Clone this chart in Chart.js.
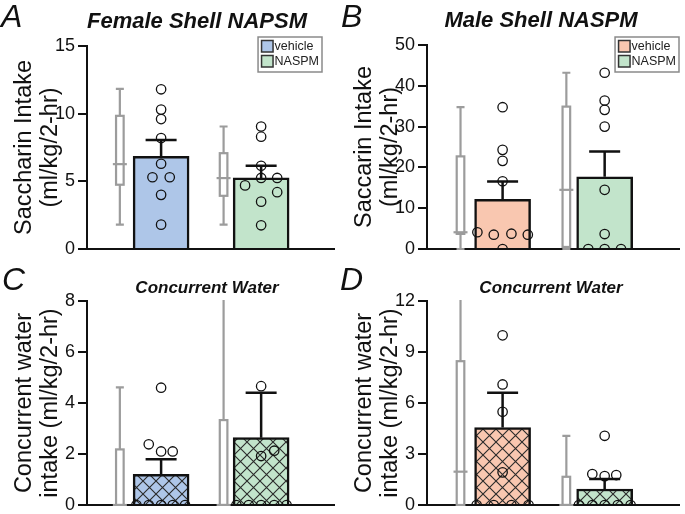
<!DOCTYPE html>
<html>
<head>
<meta charset="utf-8">
<script src="https://cdn.jsdelivr.net/npm/chart.js@4.4.1/dist/chart.umd.min.js"></script>
<style>
  body { margin: 0; background: #fff; }
  #fig { position: relative; width: 685px; height: 514px; overflow: hidden; font-family: "Liberation Sans", Arial, sans-serif; color: #111; }
  .pane { position: absolute; }
  .lbl { position: absolute; line-height: 1; white-space: nowrap; }
  .letter { font-size: 32px; font-style: italic; }
  .ttl { font-weight: bold; font-style: italic; text-align: center; width: 300px; }
</style>
</head>
<body>
<div id="fig">
  <canvas class="pane" id="cA" width="340" height="260" style="left:0;top:0"></canvas>
  <canvas class="pane" id="cB" width="345" height="260" style="left:340px;top:0"></canvas>
  <canvas class="pane" id="cC" width="340" height="254" style="left:0;top:260px"></canvas>
  <canvas class="pane" id="cD" width="345" height="254" style="left:340px;top:260px"></canvas>

  <div class="lbl letter" style="left:1px;top:0">A</div>
  <div class="lbl letter" style="left:341px;top:0">B</div>
  <div class="lbl letter" style="left:2px;top:263px">C</div>
  <div class="lbl letter" style="left:340px;top:263px">D</div>

  <div class="lbl ttl" style="left:47px;top:10px;font-size:22px">Female Shell NAPSM</div>
  <div class="lbl ttl" style="left:391px;top:9px;font-size:22px">Male Shell NASPM</div>
  <div class="lbl ttl" style="left:57px;top:279px;font-size:17px">Concurrent Water</div>
  <div class="lbl ttl" style="left:401px;top:279px;font-size:17px">Concurrent Water</div>
</div>
<script>
const groups = ['vehicle', 'NASPM'];

// A: female shell, saccharin intake
const aTicks = [0, 5, 10, 15];
const aVehicle = [11.8, 10.3, 9.6, 8.2, 6.3, 5.3, 5.3, 4.0, 1.8];
const aNaspm = [9.05, 8.3, 6.15, 5.25, 5.25, 4.7, 4.2, 3.5, 1.75];
const aMean = [6.85, 5.25];
const aSem = [1.2, 0.9];
const aBox = [[1.8, 4.75, 6.27, 9.84, 11.83], [1.8, 3.93, 5.24, 7.08, 9.05]]; // min, q1, median, q3, max

// B: male shell, saccharin intake
const bTicks = [0, 10, 20, 30, 40, 50];
const bVehicle = [34.75, 24.3, 21.6, 16.6, 4.1, 3.5, 3.75, 3.5, 0];
const bNaspm = [43.2, 36.4, 34.1, 30.0, 14.5, 3.67, 0, 0, 0];
const bMean = [12.2, 17.7];
const bSem = [4.35, 6.2];
const bBox = [[0, 3.7, 4.1, 22.7, 34.75], [0, 0.5, 14.5, 34.9, 43.2]];

// C: female, concurrent water
const cTicks = [0, 2, 4, 6, 8];
const cVehicle = [4.6, 2.38, 2.1, 2.1, 0, 0, 0, 0, 0];
const cNaspm = [4.66, 2.13, 1.92, 0, 0, 0, 0, 0];
const cMean = [1.2, 2.64];
const cSem = [0.59, 1.76];
const cBox = [[0, 0, 0, 2.18, 4.61], [0, 0, 0, 3.33, 15]];

// D: male, concurrent water
const dTicks = [0, 3, 6, 9, 12];
const dVehicle = [9.98, 7.09, 5.48, 1.92, 0, 0, 0, 0];
const dNaspm = [4.07, 1.82, 1.7, 1.76, 0, 0, 0, 0, 0];
const dMean = [4.56, 0.94];
const dSem = [2.04, 0.59];
const dBox = [[0, 0, 1.96, 8.46, 16.6], [0, 0, 0, 1.66, 4.07]];

// horizontal spread of the dots, x-axis units
const aVehicleJit = [0, 0, 0, 0, 0, -0.35, 0.35, 0, 0];
const aNaspmJit = [0, 0, 0, 0, 0.65, -0.65, 0.65, 0, 0];
const bVehicleJit = [0, 0, 0, 0, -1, -0.35, 0.35, 1, 0];
const bNaspmJit = [0, 0, 0, 0, 0, 0, -0.65, 0, 0.65];
const cVehicleJit = [0, -0.5, 0, 0.47, -1, -0.5, 0, 0.47, 0.97];
const cNaspmJit = [0, 0.53, 0, -1, -0.5, 0, 0.53, 1.03];
const dVehicleJit = [0, 0, 0, 0, -1.03, -0.35, 0.35, 1.03];
const dNaspmJit = [0, -0.49, 0, 0.46, -1.02, -0.49, 0, 0.52, 1.03];

const barX = [3, 7.05];
const boxX = [1.33, 5.53];

const BLUE = '#aec6e8', GREEN = '#c2e4cb', PEACH = '#f9c7b0';
const FONT = '"Liberation Sans", Arial, sans-serif';

function hatch(ctx, color) {
  const c = document.createElement('canvas');
  c.width = 13; c.height = 13;
  const g = c.getContext('2d');
  g.fillStyle = color;
  g.fillRect(0, 0, 13, 13);
  g.strokeStyle = '#2a2a2a';
  g.lineWidth = 1.1;
  g.beginPath();
  g.moveTo(-1, -1); g.lineTo(14, 14);
  g.moveTo(-1, 14); g.lineTo(14, -1);
  g.stroke();
  return ctx.createPattern(c, 'repeat');
}

// box plots and SEM bars, drawn right after the bars
function extras(box, mean, sem) {
  return {
    id: 'extras',
    afterDatasetDraw(chart, args) {
      if (args.meta.type !== 'bar') return;
      const {ctx, chartArea: ca} = chart;
      const xs = chart.scales.x, ys = chart.scales.y;
      ctx.save();
      ctx.beginPath();
      ctx.rect(ca.left, ca.top - 1, ca.right - ca.left, ca.bottom - ca.top + 2);
      ctx.clip();
      ctx.strokeStyle = '#9c9c9c';
      ctx.lineWidth = 2.2;
      box.forEach((b, i) => {
        const x = xs.getPixelForValue(boxX[i]);
        const [mn, q1, md, q3, mx] = b.map(v => ys.getPixelForValue(v));
        ctx.beginPath();
        ctx.moveTo(x, mn); ctx.lineTo(x, q1);
        ctx.moveTo(x, q3); ctx.lineTo(x, mx);
        ctx.moveTo(x - 4, mn); ctx.lineTo(x + 4, mn);
        ctx.moveTo(x - 4, mx); ctx.lineTo(x + 4, mx);
        ctx.stroke();
        ctx.fillStyle = '#fff';
        ctx.fillRect(x - 3.8, q3, 7.6, q1 - q3);
        ctx.strokeRect(x - 3.8, q3, 7.6, q1 - q3);
        ctx.beginPath();
        ctx.moveTo(x - 7, md); ctx.lineTo(x + 7, md);
        ctx.stroke();
      });
      ctx.strokeStyle = '#111';
      ctx.lineWidth = 2.5;
      mean.forEach((m, i) => {
        const x = xs.getPixelForValue(barX[i]);
        const y0 = ys.getPixelForValue(m), y1 = ys.getPixelForValue(m + sem[i]);
        ctx.beginPath();
        ctx.moveTo(x, y0); ctx.lineTo(x, y1);
        ctx.moveTo(x - 15.5, y1); ctx.lineTo(x + 15.5, y1);
        ctx.stroke();
      });
      ctx.restore();
    }
  };
}

function boxLegend(colors, right, top) {
  return {
    id: 'boxLegend',
    afterDraw(chart) {
      const ctx = chart.ctx;
      ctx.save();
      ctx.font = '12.5px ' + FONT;
      const tw = Math.max(...groups.map(g => ctx.measureText(g).width));
      const w = 3 + 12 + 1.5 + tw + 3, h = 35;
      const left = right - w;
      ctx.fillStyle = '#fff';
      ctx.fillRect(left, top, w, h);
      ctx.strokeStyle = '#8a8a8a';
      ctx.lineWidth = 1.5;
      ctx.strokeRect(left, top, w, h);
      groups.forEach((g, i) => {
        const sy = top + 3.5 + i * 15;
        ctx.fillStyle = colors[i];
        ctx.fillRect(left + 3.5, sy, 11.5, 11.5);
        ctx.strokeStyle = '#333';
        ctx.strokeRect(left + 3.5, sy, 11.5, 11.5);
        ctx.fillStyle = '#222';
        ctx.textBaseline = 'middle';
        ctx.fillText(g, left + 16.5, sy + 6.5);
      });
      ctx.restore();
    }
  };
}

function makeChart(id, p) {
  const canvas = document.getElementById(id);
  const ctx = canvas.getContext('2d');
  const fills = p.hatched ? p.colors.map(c => hatch(ctx, c)) : p.colors;
  const dots = [];
  p.points.forEach((vals, g) => vals.forEach((v, i) => dots.push({x: barX[g] + p.jitter[g][i], y: v})));
  const plugins = [extras(p.box, p.mean, p.sem)];
  if (p.legend) plugins.push(boxLegend(p.colors, p.legend[0], p.legend[1]));
  return new Chart(ctx, {
    type: 'scatter',
    data: {
      datasets: [{
        type: 'bar',
        order: 1,
        data: groups.map((g, i) => ({x: barX[i], y: p.mean[i]})),
        backgroundColor: fills,
        borderColor: '#111',
        borderWidth: 2.5,
        barThickness: 56
      }, {
        type: 'scatter',
        order: 0,
        data: dots,
        pointRadius: 4.7,
        borderWidth: 1.3,
        borderColor: '#111',
        backgroundColor: 'rgba(0,0,0,0)'
      }]
    },
    options: {
      responsive: false,
      animation: false,
      events: [],
      layout: {padding: p.pad},
      plugins: {legend: {display: false}, tooltip: {enabled: false}},
      scales: {
        x: {
          type: 'linear', min: 0, max: 10, offset: false,
          ticks: {display: false},
          grid: {display: false},
          border: {color: '#111', width: 2},
          afterFit: s => { s.height = 0; s.paddingLeft = 0; s.paddingRight = 0; }
        },
        y: {
          min: p.ticks[0], max: p.ticks[p.ticks.length - 1],
          ticks: {stepSize: p.ticks[1] - p.ticks[0], color: '#111', padding: 3, font: {family: FONT, size: 18}},
          grid: {drawOnChartArea: false, tickLength: 9, color: '#111', lineWidth: 2},
          border: {color: '#111', width: 2},
          title: {display: true, text: p.title, color: '#111', padding: {top: 12},
                  font: {family: FONT, size: 23.5, lineHeight: 1.1}},
          afterFit: s => { s.width = 87; s.paddingTop = 0; s.paddingBottom = 0; }
        }
      }
    },
    plugins: plugins
  });
}

makeChart('cA', {
  ticks: aTicks, points: [aVehicle, aNaspm], jitter: [aVehicleJit, aNaspmJit],
  mean: aMean, sem: aSem, box: aBox, colors: [BLUE, GREEN],
  title: ['Saccharin Intake', '(ml/kg/2-hr)'],
  pad: {top: 46, right: 0, bottom: 11, left: 0}, legend: [322, 37]
});
makeChart('cB', {
  ticks: bTicks, points: [bVehicle, bNaspm], jitter: [bVehicleJit, bNaspmJit],
  mean: bMean, sem: bSem, box: bBox, colors: [PEACH, GREEN],
  title: ['Saccarin Intake', '(ml/kg/2-hr)'],
  pad: {top: 45, right: 5, bottom: 11, left: 0}, legend: [339, 37]
});
makeChart('cC', {
  ticks: cTicks, points: [cVehicle, cNaspm], jitter: [cVehicleJit, cNaspmJit],
  mean: cMean, sem: cSem, box: cBox, colors: [BLUE, GREEN], hatched: true,
  title: ['Concurrent water', 'intake (ml/kg/2-hr)'],
  pad: {top: 41, right: 0, bottom: 9, left: 0}
});
makeChart('cD', {
  ticks: dTicks, points: [dVehicle, dNaspm], jitter: [dVehicleJit, dNaspmJit],
  mean: dMean, sem: dSem, box: dBox, colors: [PEACH, GREEN], hatched: true,
  title: ['Concurrent water', 'intake (ml/kg/2-hr)'],
  pad: {top: 41, right: 5, bottom: 9, left: 0}
});
</script>
</body>
</html>
